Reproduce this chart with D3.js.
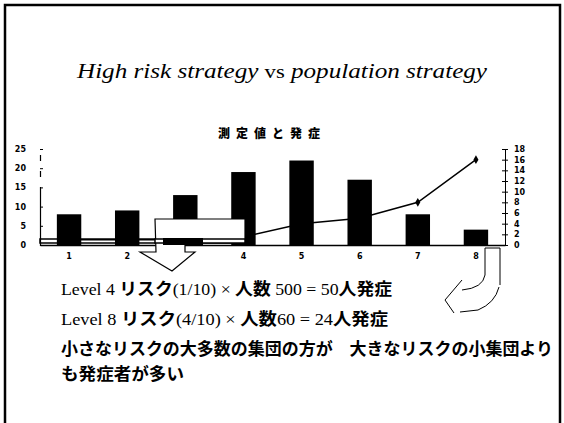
<!DOCTYPE html>
<html><head><meta charset="utf-8">
<script src="https://cdn.jsdelivr.net/npm/d3@7"></script>
<style>body{margin:0;background:#fff}svg{display:block}</style>
</head><body>
<script>
const categories = ["1","2","3","4","5","6","7","8"];
const barValues = [8, 9, 13, 19, 22, 17, 8, 4];
const lineValues = [1, 1, 1, 1.5, 4, 5, 8, 16];
const leftTicks = [0, 5, 10, 15, 20, 25];
const rightTicks = [0, 2, 4, 6, 8, 10, 12, 14, 16, 18];
const title = "測定値と発症";
const textLines = [
  ["Level 4 ", "リスク", "(1/10) × ", "人数", " 500 = 50", "人発症"],
  ["Level 8 ", "リスク", "(4/10) × ", "人数", "60  = 24", "人発症"]
];
const textLengths = [331, 327];
const line3 = "小さなリスクの大多数の集団の方が　大きなリスクの小集団より";
const line4 = "も発症者が多い";

const W = 564, H = 423;
const svg = d3.select("body").append("svg").attr("width", W).attr("height", H);
svg.append("rect").attr("width", W).attr("height", H).attr("fill", "#fff");

// frame
svg.append("rect").attr("x", 5).attr("y", 5).attr("width", 555).attr("height", 440)
  .attr("fill", "none").attr("stroke", "#000").attr("stroke-width", 2.5);

// main title
const t = svg.append("text").attr("x", 77).attr("y", 78)
  .attr("font-family", "Liberation Serif, serif").attr("font-size", 20)
  .attr("textLength", 410).attr("lengthAdjust", "spacingAndGlyphs");
t.append("tspan").attr("font-style", "italic").text("High risk strategy ");
t.append("tspan").attr("font-size", 18).text("vs");
t.append("tspan").attr("font-style", "italic").text(" population strategy");

// chart title
svg.append("text").attr("x", 272).attr("y", 138).attr("text-anchor", "middle")
  .attr("font-family", "Noto Sans CJK JP").attr("font-weight", 900).attr("font-size", 12)
  .attr("letter-spacing", 6).text(title);

const x = d3.scaleBand().domain(categories).range([40, 505]).paddingInner(0.58).paddingOuter(0.29);
const yL = d3.scaleLinear().domain([0, 25]).range([245, 149]);
const yR = d3.scaleLinear().domain([0, 18]).range([245, 149]);

// double line behind bars
svg.append("rect").attr("x", 40).attr("y", 239).attr("width", 205).attr("height", 4)
  .attr("fill", "#fff").attr("stroke", "#000").attr("stroke-width", 1.5);

// bars
svg.append("g").selectAll("rect").data(barValues).join("rect")
  .attr("x", (d, i) => x(categories[i]))
  .attr("y", d => yL(d))
  .attr("width", x.bandwidth())
  .attr("height", d => yL(0) - yL(d))
  .attr("fill", "#000");

// left axis
const axL = svg.append("g").attr("transform", "translate(40,0)")
  .call(d3.axisLeft(yL).tickValues(leftTicks).tickSize(-3).tickPadding(14));
axL.select(".domain").attr("stroke-dasharray", "55,0,6,10,6,10,6,10").attr("stroke-width", 1.2);
axL.selectAll("text").attr("font-family", "DejaVu Sans").attr("font-weight", "bold").attr("font-size", 8);

// right axis
const axR = svg.append("g").attr("transform", "translate(505,0)")
  .call(d3.axisRight(yR).tickValues(rightTicks).tickSize(3).tickPadding(6));
axR.selectAll(".tick line").attr("x1", -3);
axR.selectAll("text").attr("font-family", "DejaVu Sans").attr("font-weight", "bold").attr("font-size", 8);

// bottom axis
const axB = svg.append("g").attr("transform", "translate(0,245)")
  .call(d3.axisBottom(x).tickSize(0).tickPadding(8));
axB.select(".domain").attr("stroke-width", 1.5);
axB.selectAll("text").attr("font-family", "DejaVu Sans").attr("font-weight", "bold").attr("font-size", 8);

// line series
const lineGen = d3.line().x((d, i) => x(categories[i]) + x.bandwidth() / 2).y(d => yR(d));
svg.append("path").datum(lineValues).attr("d", lineGen)
  .attr("fill", "none").attr("stroke", "#000").attr("stroke-width", 1.5);
svg.append("g").selectAll("path").data(lineValues).join("path")
  .attr("transform", (d, i) => `translate(${x(categories[i]) + x.bandwidth() / 2},${yR(d)})`)
  .attr("d", d3.symbol(d3.symbolDiamond, 22)).attr("fill", "#000");

// down-arrow callout overlay
svg.append("path")
  .attr("d", "M155,219 L245,219 L245,240 L185,240 L185,252 L195,252 L172,271 L140,252 L156,252 Z")
  .attr("fill", "#fff").attr("stroke", "#000").attr("stroke-width", 1.2);
svg.append("rect").attr("x", 155).attr("y", 239).attr("width", 90).attr("height", 4)
  .attr("fill", "#fff").attr("stroke", "#000").attr("stroke-width", 1.5);
svg.append("rect").attr("x", 163).attr("y", 238).attr("width", 40).attr("height", 7).attr("fill", "#000");

// curved arrow at right
const cg = svg.append("g").attr("fill", "none").attr("stroke", "#000").attr("stroke-width", 1);
cg.append("path").attr("d", "M485,248 L500,248 L500,285");
cg.append("path").attr("d", "M485,248 L485,275 Q483,288 462,290");
cg.append("path").attr("d", "M462,280 L445,300 L454,313");
cg.append("path").attr("d", "M460,312 L478,310 Q495,303 499,287");

// texts
textLines.forEach((parts, k) => {
  const tx = svg.append("text").attr("x", 61).attr("y", 295 + k * 30)
    .attr("textLength", textLengths[k]).attr("lengthAdjust", "spacingAndGlyphs");
  parts.forEach((p, j) => {
    const cjk = j % 2 === 1;
    tx.append("tspan")
      .attr("font-family", cjk ? "Noto Sans CJK JP" : "Liberation Serif, serif")
      .attr("font-weight", cjk ? "bold" : "normal")
      .attr("font-size", cjk ? 17 : 17)
      .text(p);
  });
});
svg.append("text").attr("x", 61).attr("y", 355)
  .attr("font-family", "Noto Sans CJK JP").attr("font-weight", "bold").attr("font-size", 17)
  .attr("textLength", 492).attr("lengthAdjust", "spacingAndGlyphs").text(line3);
svg.append("text").attr("x", 61).attr("y", 380)
  .attr("font-family", "Noto Sans CJK JP").attr("font-weight", "bold").attr("font-size", 17)
  .attr("textLength", 123).attr("lengthAdjust", "spacingAndGlyphs").text(line4);
</script>
</body></html>
